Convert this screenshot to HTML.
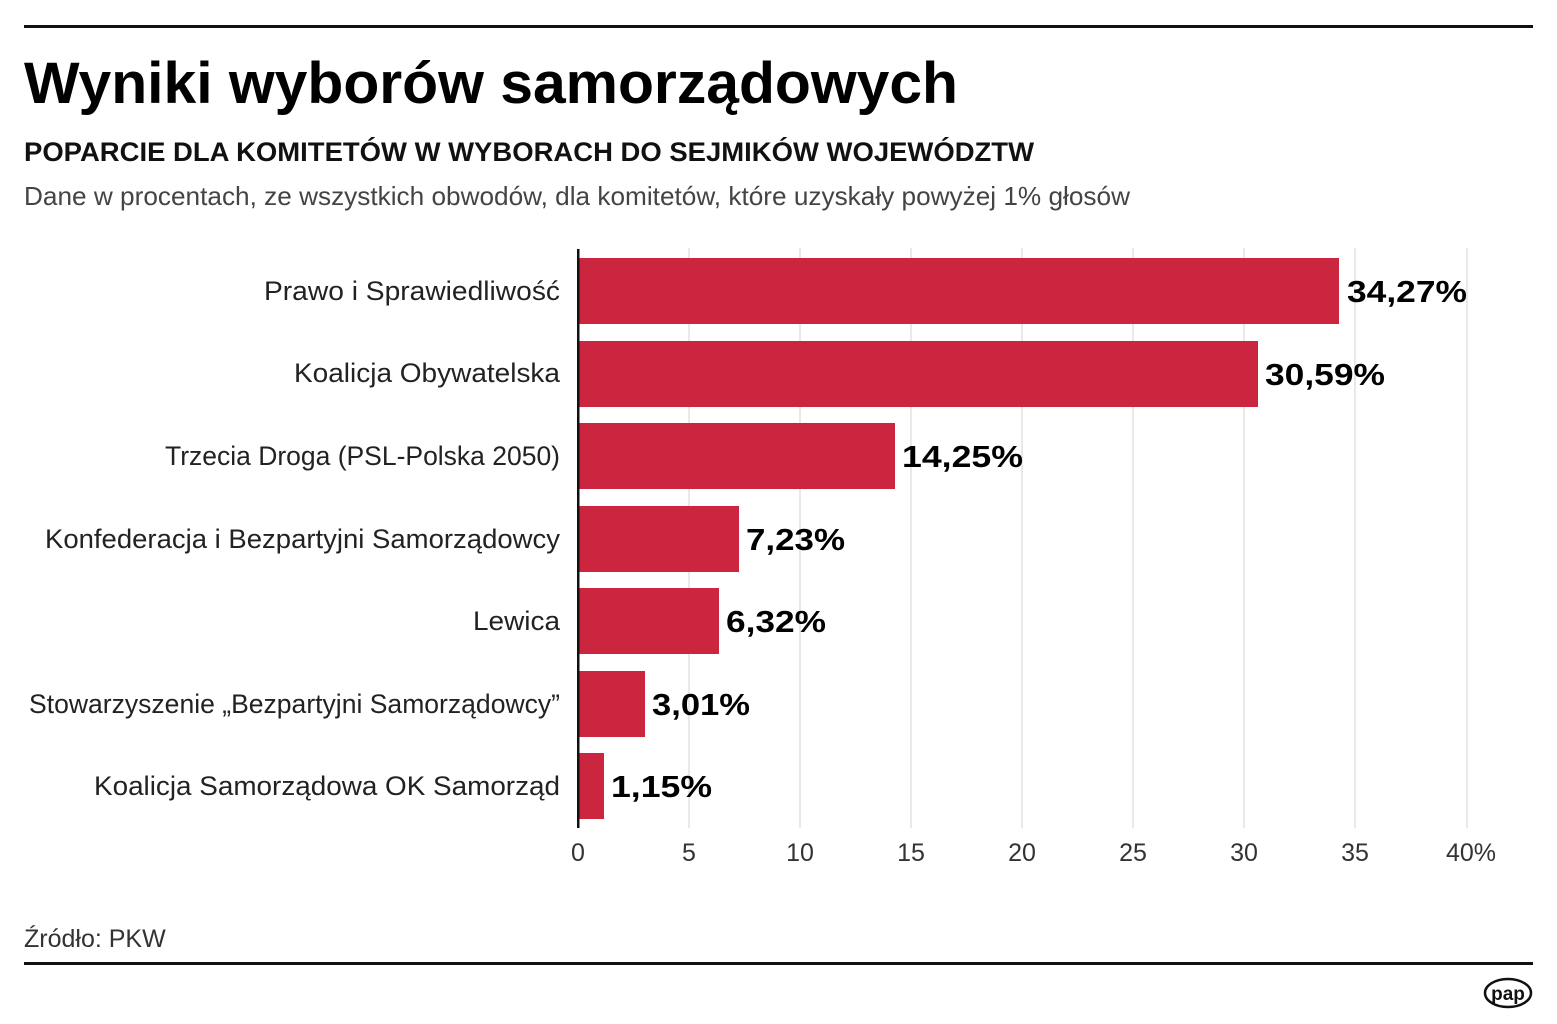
<!DOCTYPE html>
<html><head><meta charset="utf-8"><style>
body{margin:0;background:#fff;width:1557px;height:1024px;overflow:hidden}
svg{display:block}
text{font-family:"Liberation Sans",sans-serif}
</style></head><body>
<svg width="1557" height="1024" viewBox="0 0 1557 1024">
<rect x="24" y="25" width="1509" height="3" fill="#111"/>
<text x="24" y="103" font-size="58" font-weight="bold" fill="#000" textLength="934" lengthAdjust="spacingAndGlyphs">Wyniki wyborów samorządowych</text>
<text x="24" y="161" font-size="27" font-weight="bold" fill="#111" textLength="1010" lengthAdjust="spacingAndGlyphs">POPARCIE DLA KOMITETÓW W WYBORACH DO SEJMIKÓW WOJEWÓDZTW</text>
<text x="24" y="205" font-size="26" fill="#444" textLength="1106" lengthAdjust="spacingAndGlyphs">Dane w procentach, ze wszystkich obwodów, dla komitetów, które uzyskały powyżej 1% głosów</text>
<g stroke="#e2e2e2" stroke-width="1.5">
<line x1="689" y1="248" x2="689" y2="828"/><line x1="800" y1="248" x2="800" y2="828"/>
<line x1="911" y1="248" x2="911" y2="828"/><line x1="1022" y1="248" x2="1022" y2="828"/>
<line x1="1133" y1="248" x2="1133" y2="828"/><line x1="1244" y1="248" x2="1244" y2="828"/>
<line x1="1355" y1="248" x2="1355" y2="828"/><line x1="1467" y1="248" x2="1467" y2="828"/>
</g>
<g fill="#cc2540">
<rect x="579" y="258" width="760" height="66"/>
<rect x="579" y="341" width="679" height="66"/>
<rect x="579" y="423" width="316" height="66"/>
<rect x="579" y="506" width="160" height="66"/>
<rect x="579" y="588" width="140" height="66"/>
<rect x="579" y="671" width="66" height="66"/>
<rect x="579" y="753" width="25" height="66"/>
</g>
<rect x="577" y="249" width="2.5" height="579" fill="#111"/>
<g font-size="31" font-weight="bold" fill="#000" lengthAdjust="spacingAndGlyphs">
<text x="1347" y="302" textLength="120" lengthAdjust="spacingAndGlyphs">34,27%</text>
<text x="1265" y="385" textLength="120" lengthAdjust="spacingAndGlyphs">30,59%</text>
<text x="902" y="467" textLength="121" lengthAdjust="spacingAndGlyphs">14,25%</text>
<text x="746" y="550" textLength="99" lengthAdjust="spacingAndGlyphs">7,23%</text>
<text x="726" y="632" textLength="100" lengthAdjust="spacingAndGlyphs">6,32%</text>
<text x="652" y="715" textLength="98" lengthAdjust="spacingAndGlyphs">3,01%</text>
<text x="611" y="797" textLength="101" lengthAdjust="spacingAndGlyphs">1,15%</text>
</g>
<g font-size="27" fill="#222" text-anchor="end">
<text x="560" y="300" textLength="296" lengthAdjust="spacingAndGlyphs">Prawo i Sprawiedliwość</text>
<text x="560" y="382" textLength="266" lengthAdjust="spacingAndGlyphs">Koalicja Obywatelska</text>
<text x="560" y="465" textLength="395" lengthAdjust="spacingAndGlyphs">Trzecia Droga (PSL-Polska 2050)</text>
<text x="560" y="548" textLength="515" lengthAdjust="spacingAndGlyphs">Konfederacja i Bezpartyjni Samorządowcy</text>
<text x="560" y="630" textLength="87" lengthAdjust="spacingAndGlyphs">Lewica</text>
<text x="560" y="713" textLength="531" lengthAdjust="spacingAndGlyphs">Stowarzyszenie „Bezpartyjni Samorządowcy”</text>
<text x="560" y="795" textLength="466" lengthAdjust="spacingAndGlyphs">Koalicja Samorządowa OK Samorząd</text>
</g>
<g font-size="25" fill="#333" text-anchor="middle">
<text x="578" y="861">0</text><text x="689" y="861">5</text><text x="800" y="861">10</text>
<text x="911" y="861">15</text><text x="1022" y="861">20</text><text x="1133" y="861">25</text>
<text x="1244" y="861">30</text><text x="1355" y="861">35</text><text x="1471" y="861">40%</text>
</g>
<text x="24" y="947" font-size="25" fill="#333">Źródło: PKW</text>
<rect x="24" y="962" width="1509" height="3" fill="#111"/>
<ellipse cx="1508" cy="993" rx="23" ry="14" fill="none" stroke="#111" stroke-width="2.5"/>
<text x="1508" y="1000" font-size="19" font-weight="bold" fill="#111" text-anchor="middle">pap</text>
</svg>
</body></html>
